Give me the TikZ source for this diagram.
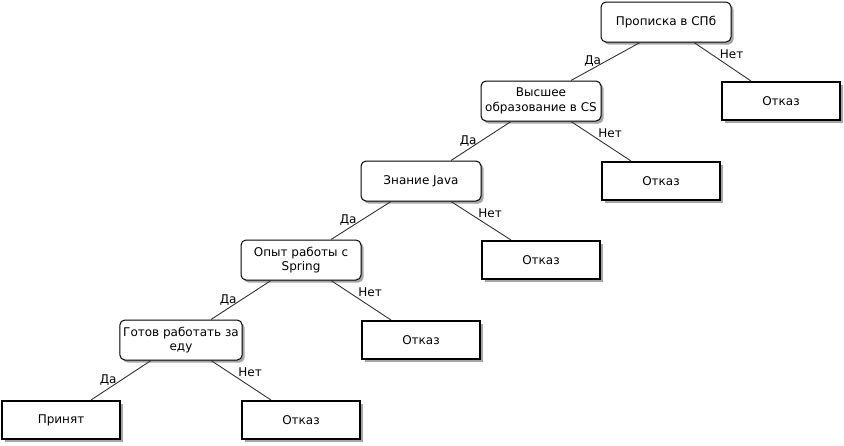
\documentclass[tikz,border=0pt]{standalone}
\usepackage{fontspec}
\setmainfont{DejaVu Sans}
\usetikzlibrary{shadows}
\def\asknode{\node[draw=black,line width=1pt,rounded corners=5pt,fill=white,minimum width=120pt,minimum height=40pt,align=center,drop shadow={shadow xshift=2.5pt,shadow yshift=-2.5pt,fill=black!35,opacity=1}]}
\def\endnode{\node[draw=black,line width=2pt,fill=white,minimum width=118pt,minimum height=38pt,drop shadow={shadow xshift=2.5pt,shadow yshift=-2.5pt,fill=black!35,opacity=1}]}
\def\drawedge{\draw[color=black!80, line width=0.9pt]}
\tikzset{
  yes/.style={midway,left,inner sep=4pt,text=black},
  no/.style={midway,above right,inner sep=0pt,xshift=-3pt,yshift=3pt,text=black}
}

\begin{document}
\begin{tikzpicture}[x=1pt,y=-1pt,font=\fontsize{12pt}{14.5pt}\selectfont]
\useasboundingbox (0,0) rectangle (844,445);
\asknode[minimum width=130pt] (spb) at (666,22) {Прописка в СПб};
\asknode (edu) at (541,101) {Высшее\\образование в CS};
\endnode (no1) at (781,101) {Отказ};
\asknode (java) at (421,181) {Знание Java};
\endnode (no2) at (661,181) {Отказ};
\asknode (spring) at (301,260) {Опыт работы с\\Spring};
\endnode (no3) at (541,260) {Отказ};
\asknode (food) at (181,340) {Готов работать за\\еду};
\endnode (no4) at (421,340) {Отказ};
\endnode (hired) at (61,420) {Принят};
\endnode (no5) at (301,420) {Отказ};
\drawedge ([xshift=-26pt]spb.south) -- node[yes] {Да} ([xshift=30pt]edu.north);
\drawedge ([xshift=28pt]spb.south) -- node[no] {Нет} ([xshift=-30pt]no1.north);
\drawedge ([xshift=-30pt]edu.south) -- node[yes] {Да} ([xshift=30pt]java.north);
\drawedge ([xshift=30pt]edu.south) -- node[no] {Нет} ([xshift=-30pt]no2.north);
\drawedge ([xshift=-30pt]java.south) -- node[yes] {Да} ([xshift=30pt]spring.north);
\drawedge ([xshift=30pt]java.south) -- node[no] {Нет} ([xshift=-30pt]no3.north);
\drawedge ([xshift=-30pt]spring.south) -- node[yes] {Да} ([xshift=30pt]food.north);
\drawedge ([xshift=30pt]spring.south) -- node[no] {Нет} ([xshift=-30pt]no4.north);
\drawedge ([xshift=-30pt]food.south) -- node[yes] {Да} ([xshift=30pt]hired.north);
\drawedge ([xshift=30pt]food.south) -- node[no] {Нет} ([xshift=-30pt]no5.north);
\end{tikzpicture}
\end{document}
